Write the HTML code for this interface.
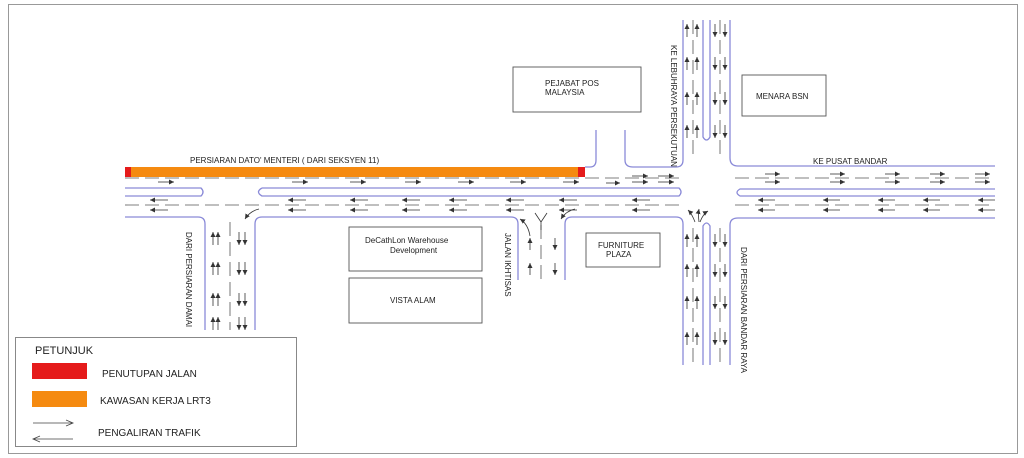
<!DOCTYPE html>
<html><head><meta charset="utf-8"><style>
html,body{margin:0;padding:0;background:#fff}
svg{display:block}
text{font-family:"Liberation Sans",Arial,sans-serif;fill:#222}
</style></head><body>
<svg width="1024" height="458" viewBox="0 0 1024 458" xmlns="http://www.w3.org/2000/svg">
<defs>
<marker id="ah" markerWidth="6" markerHeight="6" refX="5" refY="3" orient="auto" markerUnits="userSpaceOnUse"><path d="M0,0.5 L5,3 L0,5.5 Z" fill="#333"/></marker>
</defs>
<rect x="8.5" y="4.5" width="1009" height="449" fill="#fff" stroke="#999" stroke-width="1"/>

<g fill="none" stroke="#8a8ad8" stroke-width="1.3">
<!-- main road top edge left part (under orange) & right -->
<path d="M585,167 L590,167 Q596,167 596,160 L596,130"/>
<path d="M625,130 L625,160 Q625,167 633,167 L676,167 Q683,167 683,160 L683,20"/>
<path d="M730,20 L730,158 Q730,166 738,166 L995,166"/>
<!-- north median -->
<path d="M703,20 L703,137 Q706.5,143 710,137 L710,20"/>
<!-- medians -->
<path d="M125,188 L201,188 Q205,192 201,196 L125,196"/>
<path d="M262,188 L679,188 Q683,192 679,196 L262,196 Q255,192 262,188"/>
<path d="M995,189 L740,189 Q734,192.5 740,196 L995,196"/>
<!-- bottom edge -->
<path d="M125,217 L198,217 Q205,217 205,224 L205,330"/>
<path d="M255,330 L255,224 Q255,217 262,217 L511,217 Q518,217 518,224 L518,280"/>
<path d="M565,280 L565,224 Q565,217 572,217 L676,217 Q683,217 683,224 L683,365"/>
<path d="M703,365 L703,226 Q706.5,220 710,226 L710,365"/>
<path d="M730,365 L730,225 Q730,218 738,218 L995,218"/>
</g>

<!-- dashed lane lines -->
<g stroke="#555" stroke-width="0.8" stroke-dasharray="14,6" fill="none">
<path d="M125,178 L683,178"/>
<path d="M735,178 L995,178"/>
<path d="M125,205 L683,205"/>
<path d="M735,205 L995,205"/>
<path d="M230,222 L230,330"/>
<path d="M541,225 L541,280"/>
<path d="M693,20 L693,155"/>
<path d="M720,20 L720,155"/>
<path d="M693,228 L693,365"/>
<path d="M720,228 L720,365"/>
</g>

<!-- orange work zone -->
<rect x="125" y="167" width="460" height="10" fill="#f58a10"/>
<rect x="125" y="167" width="6" height="10" fill="#e51b1b"/>
<rect x="578" y="167" width="7" height="10" fill="#e51b1b"/>

<g stroke="#333" stroke-width="0.8" marker-end="url(#ah)" fill="none">
<!-- right arrows lane y=182 -->
<path d="M158,182 L174,182"/><path d="M292,182 L308,182"/><path d="M350,182 L366,182"/><path d="M405,182 L421,182"/><path d="M458,182 L474,182"/><path d="M510,182 L526,182"/><path d="M563,182 L579,182"/><path d="M606,183 L620,183"/>
<path d="M632,176 L648,176"/><path d="M632,182 L648,182"/><path d="M658,176 L674,176"/><path d="M658,182 L674,182"/>
<path d="M765,174 L780,174"/><path d="M765,182 L780,182"/><path d="M830,174 L845,174"/><path d="M830,182 L845,182"/><path d="M885,174 L900,174"/><path d="M885,182 L900,182"/><path d="M930,174 L945,174"/><path d="M930,182 L945,182"/><path d="M975,174 L990,174"/><path d="M975,182 L990,182"/>
<!-- left arrows -->
<path d="M168,200 L150,200"/><path d="M168,210 L150,210"/>
<path d="M306,200 L288,200"/><path d="M306,210 L288,210"/>
<path d="M368,200 L350,200"/><path d="M368,210 L350,210"/>
<path d="M420,200 L402,200"/><path d="M420,210 L402,210"/>
<path d="M467,200 L449,200"/><path d="M467,210 L449,210"/>
<path d="M524,200 L506,200"/><path d="M524,210 L506,210"/>
<path d="M577,200 L559,200"/><path d="M577,210 L559,210"/>
<path d="M650,200 L632,200"/><path d="M650,210 L632,210"/>
<path d="M775,200 L758,200"/><path d="M775,210 L758,210"/>
<path d="M840,200 L823,200"/><path d="M840,210 L823,210"/>
<path d="M895,200 L878,200"/><path d="M895,210 L878,210"/>
<path d="M940,200 L923,200"/><path d="M940,210 L923,210"/>
<path d="M995,200 L978,200"/><path d="M995,210 L978,210"/>
<!-- turning arrows -->
<path d="M259,209 Q250,211 245,219"/>
<path d="M530,236 Q528,224 520,219"/>
<path d="M575,209 Q566,211 561,219"/>
<path d="M695,222 Q692,214 688,210"/><path d="M699,222 Q698,214 699,209"/><path d="M700,222 Q703,214 708,211"/>
<!-- Damai -->
<g id="dm"><path d="M213,245 L213,232"/><path d="M218,245 L218,232"/><path d="M239,232 L239,245"/><path d="M245,232 L245,245"/></g>
<use href="#dm" y="30"/><use href="#dm" y="61"/><use href="#dm" y="85"/>
<!-- Ikhtisas -->
<path d="M530,250 L530,238"/><path d="M530,275 L530,263"/>
<path d="M555,238 L555,250"/><path d="M555,263 L555,275"/>
<!-- north -->
<g id="nn"><path d="M687,37 L687,24"/><path d="M697,37 L697,24"/><path d="M715,24 L715,37"/><path d="M725,24 L725,37"/></g>
<use href="#nn" y="33"/><use href="#nn" y="68"/><use href="#nn" y="101"/>
<!-- south -->
<g id="ss"><path d="M687,247 L687,234"/><path d="M697,247 L697,234"/><path d="M715,234 L715,247"/><path d="M725,234 L725,247"/></g>
<use href="#ss" y="30"/><use href="#ss" y="62"/><use href="#ss" y="98"/>
</g>
<!-- Y fork Ikhtisas -->
<path d="M535,213 L541,222 L547,213 M541,222 L541,230" stroke="#333" stroke-width="0.8" fill="none"/>

<!-- buildings -->
<g fill="#fff" stroke="#555" stroke-width="0.9">
<rect x="513" y="67" width="128" height="45"/>
<rect x="742" y="75" width="84" height="41"/>
<rect x="586" y="233" width="74" height="34"/>
<rect x="349" y="227" width="133" height="44"/>
<rect x="349" y="278" width="133" height="45"/>
</g>
<g font-size="8">
<text x="545" y="86">PEJABAT POS</text><text x="545" y="95">MALAYSIA</text>
<text x="756" y="99">MENARA BSN</text>
<text x="598" y="248">FURNITURE</text><text x="606" y="257">PLAZA</text>
<text x="365" y="243">DeCathLon Warehouse</text><text x="390" y="253">Development</text>
<text x="390" y="303">VISTA ALAM</text>
<text x="190" y="163">PERSIARAN DATO' MENTERI ( DARI SEKSYEN 11)</text>
<text x="813" y="164">KE PUSAT BANDAR</text>
<text transform="translate(671,45) rotate(90)">KE LEBUHRAYA PERSEKUTUAN</text>
<text transform="translate(741,247) rotate(90)">DARI PERSIARAN BANDAR RAYA</text>
<text transform="translate(186,232) rotate(90)">DARI PERSIARAN DAMAI</text>
<text transform="translate(505,233) rotate(90)">JALAN IKHTISAS</text>
</g>

<!-- legend -->
<rect x="15.5" y="337.5" width="281" height="109" fill="#fff" stroke="#888"/>
<text x="35" y="354" font-size="11">PETUNJUK</text>
<rect x="32" y="363" width="55" height="16" fill="#e51b1b"/>
<rect x="32" y="391" width="55" height="16" fill="#f58a10"/>
<text x="102" y="377" font-size="10">PENUTUPAN JALAN</text>
<text x="100" y="404" font-size="10">KAWASAN KERJA LRT3</text>
<text x="98" y="436" font-size="10">PENGALIRAN TRAFIK</text>
<g stroke="#444" stroke-width="0.8" fill="none">
<path d="M33,423 L72,423 M66,420 L73,423 L66,426"/>
<path d="M73,439 L34,439 M40,436 L33,439 L40,442"/>
</g>
</svg>
</body></html>
